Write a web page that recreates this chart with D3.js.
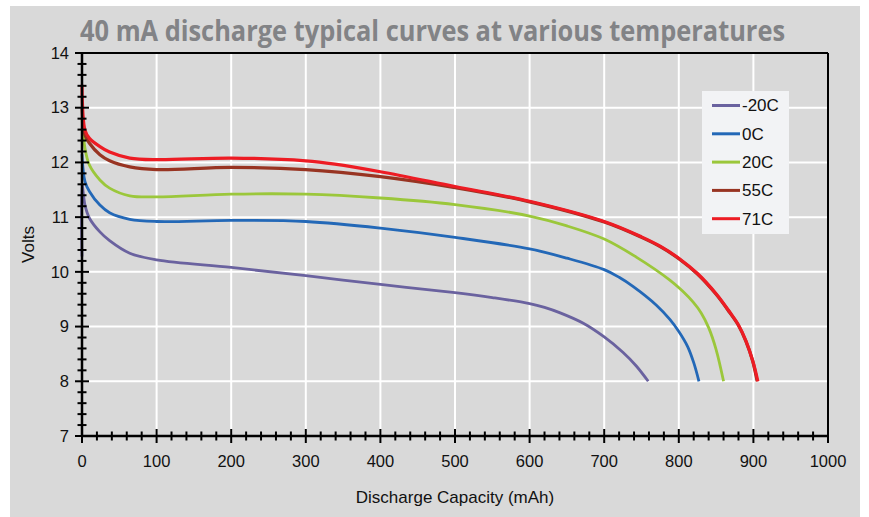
<!DOCTYPE html>
<html>
<head>
<meta charset="utf-8">
<script src="https://cdn.jsdelivr.net/npm/d3@7"></script>
<style>
  body { margin: 0; background: #fff; }
  svg text { font-family: "Liberation Sans", Arial, sans-serif; }
</style>
</head>
<body>
<svg id="chart"></svg>
<script>
// series (capacity mAh / volts)
const names = ["-20C", "0C", "20C", "55C", "71C"];
const colors = ["#6a629f", "#2368b7", "#9bc73b", "#983422", "#ed1c24"];

const capM20 = [0, 0, 4, 10, 24, 37, 64, 100, 200, 300, 400, 500, 550, 600, 620, 641, 672, 700, 725, 743, 759];
const voltM20 = [10.28, 11.6, 11.22, 10.98, 10.73, 10.57, 10.34, 10.22, 10.08, 9.93, 9.77, 9.62, 9.53, 9.42, 9.35, 9.25, 9.06, 8.81, 8.53, 8.28, 8.0];

const cap0 = [0, 4, 10, 24, 37, 64, 100, 200, 300, 400, 500, 600, 650, 700, 720, 739, 770, 788, 800, 812, 820, 827];
const volt0 = [12.15, 11.65, 11.47, 11.22, 11.08, 10.96, 10.92, 10.94, 10.92, 10.8, 10.63, 10.42, 10.25, 10.04, 9.9, 9.73, 9.39, 9.13, 8.91, 8.63, 8.34, 8.0];

const cap20 = [0, 4, 10, 24, 37, 64, 100, 200, 300, 400, 500, 600, 650, 700, 743, 788, 805, 819, 830, 840, 850, 860];
const volt20 = [12.81, 12.26, 11.95, 11.68, 11.53, 11.39, 11.37, 11.42, 11.42, 11.35, 11.23, 11.02, 10.84, 10.6, 10.27, 9.85, 9.65, 9.45, 9.25, 8.98, 8.58, 8.0];

const cap55 = [0, 4, 10, 24, 37, 64, 100, 200, 300, 400, 500, 600, 700, 750, 775, 800, 825, 850, 868, 880, 890, 899, 905];
const volt55 = [12.99, 12.5, 12.35, 12.14, 12.03, 11.92, 11.87, 11.91, 11.87, 11.74, 11.54, 11.28, 10.91, 10.63, 10.46, 10.24, 9.96, 9.59, 9.26, 9.02, 8.73, 8.37, 8.0];

const cap71 = [0, 4, 10, 24, 37, 64, 100, 200, 300, 339, 400, 500, 600, 700, 750, 775, 800, 825, 850, 868, 880, 890, 899, 906];
const volt71 = [13.42, 12.59, 12.44, 12.29, 12.19, 12.08, 12.05, 12.08, 12.03, 11.97, 11.83, 11.56, 11.29, 10.92, 10.64, 10.47, 10.25, 9.97, 9.6, 9.27, 9.03, 8.74, 8.38, 8.0];

const xTicks = [0, 100, 200, 300, 400, 500, 600, 700, 800, 900, 1000];
const yTicks = [7, 8, 9, 10, 11, 12, 13, 14];

const series = [
  [capM20, voltM20], [cap0, volt0], [cap20, volt20], [cap55, volt55], [cap71, volt71]
].map(([c, v], i) => ({
  name: names[i],
  color: colors[i],
  points: c.map((d, j) => ({ x: d, y: v[j] }))
}));

const width = 869, height = 517;
const margin = { top: 53, right: 41, bottom: 81, left: 82 };
const innerW = width - margin.left - margin.right;
const innerH = height - margin.top - margin.bottom;

const svg = d3.select("#chart").attr("width", width).attr("height", height);

// grey panel
svg.append("rect")
  .attr("x", 10).attr("y", 6)
  .attr("width", 850).attr("height", height - 6)
  .attr("fill", "#d9d9d9");

svg.append("text")
  .attr("x", 80).attr("y", 41)
  .attr("textLength", 705)
  .attr("lengthAdjust", "spacingAndGlyphs")
  .style("font-family", "'Open Sans', sans-serif")
  .style("font-weight", "bold")
  .style("font-size", "29px")
  .attr("fill", "#828386")
  .text("40 mA discharge typical curves at various temperatures");

const g = svg.append("g").attr("transform", `translate(${margin.left},${margin.top})`);

const x = d3.scaleLinear().domain([0, 1000]).range([0, innerW]);
const y = d3.scaleLinear().domain([7, 14]).range([innerH, 0]);

// white grid
g.append("g")
  .selectAll("line")
  .data(xTicks.slice(1, -1))
  .enter()
  .append("line")
  .attr("x1", (d) => x(d)).attr("x2", (d) => x(d))
  .attr("y1", 0).attr("y2", innerH)
  .attr("stroke", "#fff").attr("stroke-width", 2);

g.append("g")
  .selectAll("line")
  .data(yTicks.slice(1, -1))
  .enter()
  .append("line")
  .attr("x1", 0).attr("x2", innerW)
  .attr("y1", (d) => y(d)).attr("y2", (d) => y(d))
  .attr("stroke", "#fff").attr("stroke-width", 2);

// curves
const line = d3.line()
  .x((d) => x(d.x))
  .y((d) => y(d.y))
  .curve(d3.curveCatmullRom.alpha(0.5));

g.append("g")
  .selectAll("path")
  .data(series)
  .enter()
  .append("path")
  .attr("d", (d) => line(d.points))
  .attr("fill", "none")
  .attr("stroke", (d) => d.color)
  .attr("stroke-width", (d, i) => (i >= 3 ? 3.2 : 2.8))
  .attr("stroke-linecap", "butt")
  .attr("stroke-linejoin", "round");

// frame top / right
g.append("line")
  .attr("x1", 0).attr("x2", innerW).attr("y1", 0).attr("y2", 0)
  .attr("stroke", "#000").attr("stroke-width", 2);
g.append("line")
  .attr("x1", innerW).attr("x2", innerW).attr("y1", 0).attr("y2", innerH)
  .attr("stroke", "#000").attr("stroke-width", 2);

// X axis with crossing ticks
const xAxis = g.append("g").attr("transform", `translate(0,${innerH})`);
xAxis.append("line")
  .attr("x1", 0).attr("x2", innerW)
  .attr("stroke", "#000").attr("stroke-width", 2.5);
xAxis.selectAll(".minor")
  .data(d3.range(0, 1001, 20))
  .enter()
  .append("line")
  .attr("x1", (d) => x(d)).attr("x2", (d) => x(d))
  .attr("y1", (d) => (d % 100 === 0 ? -7 : -4.5))
  .attr("y2", (d) => (d % 100 === 0 ? 7 : 4.5))
  .attr("stroke", "#000").attr("stroke-width", 2);
xAxis.selectAll("text")
  .data(xTicks)
  .enter()
  .append("text")
  .attr("x", (d) => x(d))
  .attr("y", 31)
  .attr("text-anchor", "middle")
  .style("font-size", "16.5px")
  .attr("fill", "#111")
  .text((d) => d);

// Y axis with crossing ticks
const yAxis = g.append("g");
yAxis.append("line")
  .attr("y1", 0).attr("y2", innerH)
  .attr("stroke", "#000").attr("stroke-width", 2.5);
yAxis.selectAll(".minor")
  .data(d3.range(70, 141, 2).map((d) => d / 10))
  .enter()
  .append("line")
  .attr("y1", (d) => y(d)).attr("y2", (d) => y(d))
  .attr("x1", (d) => (Number.isInteger(d) ? -7 : -4.5))
  .attr("x2", (d) => (Number.isInteger(d) ? 7 : 4.5))
  .attr("stroke", "#000").attr("stroke-width", 2);
yAxis.selectAll("text")
  .data(yTicks)
  .enter()
  .append("text")
  .attr("x", -13)
  .attr("y", (d) => y(d))
  .attr("dy", "0.35em")
  .attr("text-anchor", "end")
  .style("font-size", "16.5px")
  .attr("fill", "#111")
  .text((d) => d);

// axis titles
svg.append("text")
  .attr("x", margin.left + innerW / 2)
  .attr("y", 503)
  .attr("text-anchor", "middle")
  .style("font-size", "17px")
  .attr("fill", "#111")
  .text("Discharge Capacity (mAh)");

svg.append("text")
  .attr("transform", `translate(34,${margin.top + innerH / 2}) rotate(-90)`)
  .attr("text-anchor", "middle")
  .style("font-size", "17px")
  .attr("fill", "#111")
  .text("Volts");

// legend
const legend = svg.append("g").attr("transform", "translate(702,91)");
legend.append("rect")
  .attr("width", 87).attr("height", 143)
  .attr("fill", "#f2f3f5");
const item = legend.selectAll(".item")
  .data(series)
  .enter()
  .append("g")
  .attr("transform", (d, i) => `translate(0,${14.5 + i * 28.3})`);
item.append("line")
  .attr("x1", 10).attr("x2", 38)
  .attr("stroke", (d) => d.color)
  .attr("stroke-width", 3);
item.append("text")
  .attr("x", 40)
  .attr("dy", "0.35em")
  .style("font-size", "17px")
  .attr("fill", "#111")
  .text((d) => d.name);
</script>
</body>
</html>
